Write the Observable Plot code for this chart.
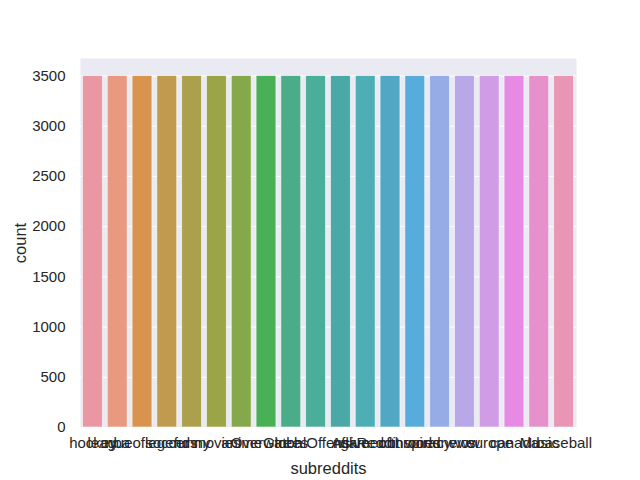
<!DOCTYPE html>
<html>
<head>
<meta charset="utf-8">
<script src="https://cdn.jsdelivr.net/npm/d3@7"></script>
<script src="https://cdn.jsdelivr.net/npm/@observablehq/plot@0.6"></script>
<style>
  html, body { margin: 0; padding: 0; background: #fff; }
  #chart svg { display: block; }
  #chart svg g[aria-label$="tick label"] { font-size: 15px; fill: #262626; }
  #chart svg g[aria-label$="axis label"] { font-size: 16.5px; fill: #262626; }
</style>
</head>
<body>
<div id="chart"></div>
<script>
const subreddits = ["hockey", "nba", "leagueoflegends", "soccer", "funny", "movies", "anime", "Overwatch", "trees", "GlobalOffensive", "nfl", "AskReddit", "gameofthrones", "conspiracy", "worldnews", "wow", "europe", "canada", "Music", "baseball"];
const counts = [3500, 3500, 3500, 3500, 3500, 3500, 3500, 3500, 3500, 3500, 3500, 3500, 3500, 3500, 3500, 3500, 3500, 3500, 3500, 3500];
const colors = ["#EA96A3", "#E8997F", "#D8944E", "#C09A4E", "#ACA04C", "#9CA448", "#85A84A", "#4AB056", "#4AAC88", "#4AAE9A", "#4AA9A6", "#4EAEB6", "#52A8C4", "#58ACDC", "#96ACE6", "#B8A8EA", "#D09CE6", "#E68AE4", "#E690CC", "#E896B4"];
const yTicks = [0, 500, 1000, 1500, 2000, 2500, 3000, 3500];

const data = subreddits.map((s, i) => ({subreddit: s, count: counts[i]}));

const chart = Plot.plot({
  width: 640,
  height: 480,
  marginLeft: 80,
  marginRight: 64,
  marginTop: 58,
  marginBottom: 53,
  style: {fontFamily: "'Liberation Sans', Arial, sans-serif", fontSize: "15px", color: "#262626", background: "#fff"},
  x: {domain: subreddits, paddingInner: 0.2, paddingOuter: 0.1, round: false, label: null},
  y: {domain: [0, 3675], label: null},
  color: {domain: subreddits, range: colors},
  marks: [
    Plot.frame({fill: "#EAEAF2", stroke: null}),
    Plot.gridY(yTicks, {stroke: "#fff", strokeOpacity: 1, strokeWidth: 1}),
    Plot.barY(data, {x: "subreddit", y: "count", fill: "subreddit", stroke: "#fff", strokeWidth: 0.8, strokeOpacity: 0.7}),
    Plot.axisY(yTicks, {tickSize: 0, tickPadding: 15, tickFormat: "d", label: "count", labelAnchor: "center", labelArrow: "none", labelOffset: 66}),
    Plot.axisX({tickSize: 0, tickPadding: 10, label: "subreddits", labelAnchor: "center", labelArrow: "none", labelOffset: 46, textOverflow: null})
  ]
});
document.getElementById("chart").appendChild(chart);
</script>
</body>
</html>
